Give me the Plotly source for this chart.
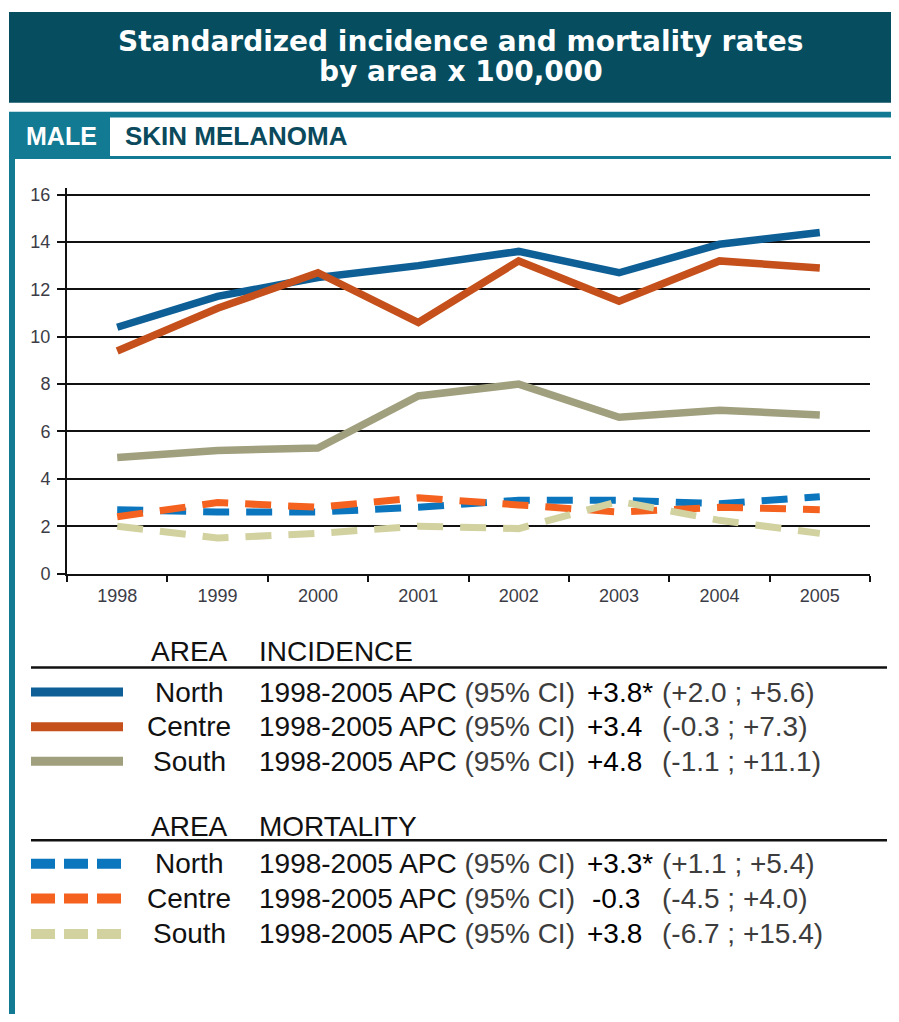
import plotly.graph_objects as go

# the page body has an 8px margin, so the figure is made 16px smaller
# and every reference coordinate is shifted by that margin
W, H = 899, 1022
OFF = 8
FIG_W, FIG_H = W - 2 * OFF, H - 2 * OFF

years = ["1998", "1999", "2000", "2001", "2002", "2003", "2004", "2005"]

# incidence (solid lines)
inc_north = [10.4, 11.7, 12.5, 13.0, 13.6, 12.7, 13.9, 14.4]
inc_centre = [9.4, 11.2, 12.7, 10.6, 13.2, 11.5, 13.2, 12.9]
inc_south = [4.9, 5.2, 5.3, 7.5, 8.0, 6.6, 6.9, 6.7]

# mortality (dashed lines)
mort_north = [2.7, 2.6, 2.6, 2.8, 3.1, 3.1, 2.95, 3.25]
mort_centre = [2.4, 3.0, 2.8, 3.2, 2.9, 2.6, 2.8, 2.7]
mort_south = [2.0, 1.5, 1.7, 2.0, 1.9, 3.05, 2.25, 1.7]

areas = ["North", "Centre", "South"]
inc_apc = ["+3.8*", "+3.4", "+4.8"]
inc_ci = ["(+2.0 ; +5.6)", "(-0.3 ; +7.3)", "(-1.1 ; +11.1)"]
mort_apc = ["+3.3*", "-0.3", "+3.8"]
mort_ci = ["(+1.1 ; +5.4)", "(-4.5 ; +4.0)", "(-6.7 ; +15.4)"]

inc_colors = ["#0d5f96", "#c5501b", "#a09f7e"]
mort_colors = ["#0b76be", "#f5621f", "#d2d1a0"]

TEAL_DARK = "#064d5f"
TEAL = "#127a92"
FONT = "Liberation Sans, Arial, sans-serif"
TITLE_FONT = "DejaVu Sans, Liberation Sans, sans-serif"


def px(x):
    return (x - OFF) / FIG_W


def py(y):
    return 1 - (y - OFF) / FIG_H


fig = go.Figure()

for vals, col, name in zip([inc_north, inc_centre, inc_south], inc_colors, areas):
    fig.add_trace(go.Scatter(
        x=years, y=vals, mode="lines", name=f"Incidence {name}",
        line=dict(color=col, width=7.5),
    ))

for vals, col, name in zip([mort_north, mort_centre, mort_south], mort_colors, areas):
    fig.add_trace(go.Scatter(
        x=years, y=vals, mode="lines", name=f"Mortality {name}",
        line=dict(color=col, width=7, dash="26px,17px"),
    ))

shapes = []
annotations = []


def rect(x0, y0, x1, y1, color):
    shapes.append(dict(type="rect", xref="paper", yref="paper",
                       x0=px(x0), x1=px(x1), y0=py(y1), y1=py(y0),
                       fillcolor=color, line=dict(width=0)))


def hline(x0, x1, y, color, width, dash="solid"):
    shapes.append(dict(type="line", xref="paper", yref="paper",
                       x0=px(x0), x1=px(x1), y0=py(y), y1=py(y),
                       line=dict(color=color, width=width, dash=dash)))


def text(x, y, s, size, color="#111", anchor="left", family=FONT):
    annotations.append(dict(xref="paper", yref="paper", x=px(x), y=py(y),
                            text=s, showarrow=False, xanchor=anchor,
                            yanchor="middle",
                            font=dict(family=family, size=size, color=color)))


# header banner
rect(9, 9, W + 10, 101, TEAL_DARK)
text(461, 39, "<b>Standardized incidence and mortality rates</b>", 28,
     "white", "center", TITLE_FONT)
text(461, 69, "<b>by area x 100,000</b>", 28, "white", "center", TITLE_FONT)

# MALE / SKIN MELANOMA row
rect(9, 110, W + 10, 158, TEAL)
rect(110, 116, W + 10, 155, "white")
rect(9, 158, 15, H + 10, TEAL)
text(61, 135, "<b>MALE</b>", 25, "white", "center")
text(123, 135, "<b>SKIN MELANOMA</b>", 26, "#0a4a5c")

# legend blocks
blocks = [
    (657, 673, [698, 733, 768], "INCIDENCE", inc_colors, inc_apc, inc_ci, "solid", 9),
    (834, 848, [872, 907, 943], "MORTALITY", mort_colors, mort_apc, mort_ci, "24px,9px", 10),
]
for head_y, line_y, rows_y, label, cols, apcs, cis, dash, lw in blocks:
    text(189, head_y, "AREA", 28, "#111", "center")
    text(257, head_y, label, 28, "#111")
    hline(31, 887, line_y, "#111", 2.5)
    for ry, col, area, apc, ci in zip(rows_y, cols, areas, apcs, cis):
        hline(31, 123, ry, col, lw, dash)
        text(189, ry, area, 28, "#111", "center")
        text(257, ry, "1998-2005 APC <span style='color:#3d3d3d'>(95% CI)</span>", 28, "#111")
        text(585 if not apc.startswith("-") else 590, ry, apc, 28, "#000")
        text(660, ry, ci, 28, "#3d3d3d")

fig.update_xaxes(
    domain=[px(67), px(870)],
    type="category",
    range=[-0.5, 7.5],
    tickson="boundaries",
    ticks="outside",
    ticklen=6,
    tickwidth=2,
    tickcolor="#111",
    ticklabelstandoff=5,
    showline=True,
    linecolor="#111",
    linewidth=2,
    showgrid=False,
    tickfont=dict(family=FONT, size=18, color="#3c3c46"),
    fixedrange=True,
)
fig.update_yaxes(
    domain=[py(578), py(187)],
    range=[0, 16.29],
    tickvals=[0, 2, 4, 6, 8, 10, 12, 14, 16],
    ticks="outside",
    ticklen=8,
    tickwidth=2,
    tickcolor="#111",
    ticklabelstandoff=3,
    showline=True,
    linecolor="#111",
    linewidth=2,
    showgrid=True,
    gridcolor="#111",
    gridwidth=2,
    zeroline=False,
    tickfont=dict(family=FONT, size=18, color="#3c3c46"),
    fixedrange=True,
)

fig.update_layout(
    width=FIG_W,
    height=FIG_H,
    margin=dict(l=0, r=0, t=0, b=0),
    paper_bgcolor="white",
    plot_bgcolor="white",
    showlegend=False,
    shapes=shapes,
    annotations=annotations,
)

fig.write_html("out.html")
